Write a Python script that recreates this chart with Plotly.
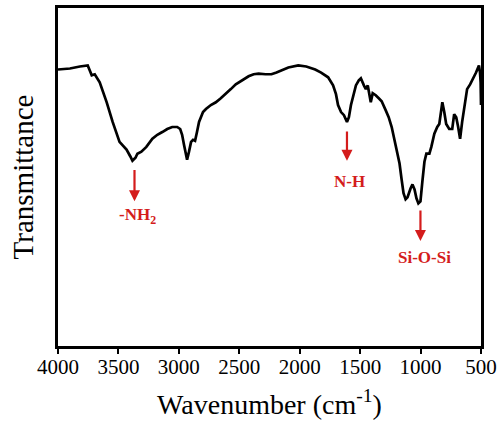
import plotly.graph_objects as go

# FTIR spectrum (wavenumber in cm-1, transmittance in arbitrary units)
wavenumber = [4000, 3901, 3819, 3754, 3737, 3721, 3696, 3655, 3597, 3548, 3491, 3433, 3400, 3384,
              3359, 3343, 3310, 3269, 3219, 3178, 3137, 3096, 3055, 3014, 2989, 2973, 2957, 2940,
              2932, 2916, 2899, 2883, 2866, 2850, 2833, 2800, 2776, 2735, 2694, 2653, 2612, 2570,
              2529, 2480, 2423, 2381, 2340, 2283, 2234, 2192, 2151, 2094, 2012, 1946, 1872, 1823,
              1765, 1724, 1700, 1683, 1658, 1634, 1609, 1593, 1576, 1552, 1535, 1511, 1494, 1469,
              1453, 1437, 1420, 1412, 1396, 1371, 1346, 1322, 1289, 1264, 1239, 1215, 1190, 1174,
              1157, 1141, 1124, 1108, 1083, 1067, 1050, 1034, 1018, 1001, 985, 968, 952, 927, 911,
              886, 862, 845, 829, 820, 804, 788, 763, 738, 722, 705, 689, 673, 656, 640, 615, 590,
              566, 541, 517, 508, 503, 500]
transmittance = [81.8, 82.1, 82.7, 83.0, 81.5, 80.1, 80.4, 78.0, 72.1, 66.3, 60.4, 58.1, 56.0, 54.8,
                 55.7, 56.9, 57.5, 58.9, 61.3, 62.5, 63.3, 64.2, 64.8, 64.8, 64.2, 62.5, 59.5, 56.6,
                 55.1, 57.5, 60.4, 61.0, 60.7, 63.3, 66.3, 69.2, 70.1, 71.3, 72.1, 73.3, 74.5, 76.0,
                 77.4, 78.6, 79.8, 80.4, 80.6, 80.4, 80.4, 80.9, 81.5, 82.4, 83.0, 82.7, 81.8, 80.9,
                 79.5, 77.1, 74.5, 71.3, 69.2, 68.3, 66.3, 67.7, 71.3, 75.1, 77.1, 78.6, 79.2, 77.1,
                 76.0, 77.1, 73.6, 72.1, 74.8, 74.2, 73.3, 72.4, 69.8, 67.7, 64.8, 61.0, 57.5, 54.0,
                 49.3, 45.2, 43.4, 44.0, 46.6, 47.8, 46.3, 43.7, 42.2, 42.8, 48.7, 54.5, 56.9, 56.9, 58.9,
                 62.8, 64.8, 65.7, 69.8, 72.1, 69.2, 65.7, 64.2, 64.2, 68.6, 67.7, 64.8, 61.3, 66.3, 69.8, 76.0, 77.4,
                 78.9, 80.9, 83.0, 80.9, 78.0, 71.3]

# Peak annotations
peak_labels = ["-NH<sub>2</sub>", "N-H", "Si-O-Si"]
peak_wn = [3367, 1609, 1001]
arrow_tail = [52.5, 63.9, 40.5]
arrow_tip = [42.8, 54.8, 31.1]
label_wn = [3345, 1585, 970]
label_y = [38.4, 48.7, 26.1]

x_ticks = [4000, 3500, 3000, 2500, 2000, 1500, 1000, 500]

serif = "Times New Roman, Liberation Serif, serif"
red = "#d41c1c"

fig = go.Figure()
fig.add_trace(go.Scatter(x=wavenumber, y=transmittance, mode="lines",
                         line=dict(color="black", width=2.7), showlegend=False))

for lab, wn, t0, t1, lwn, ly in zip(peak_labels, peak_wn, arrow_tail, arrow_tip, label_wn, label_y):
    fig.add_annotation(x=wn, y=t1, ax=wn, ay=t0, xref="x", yref="y", axref="x", ayref="y",
                       text="", showarrow=True, arrowhead=2, arrowsize=1.0, arrowwidth=2.2,
                       arrowcolor=red)
    fig.add_annotation(x=lwn, y=ly, xref="x", yref="y", text="<b>" + lab + "</b>",
                       showarrow=False, font=dict(family=serif, size=17, color=red))

fig.update_layout(
    width=502, height=425,
    margin=dict(l=58, r=18, t=5, b=79),
    plot_bgcolor="white", paper_bgcolor="white",
    font=dict(family=serif, color="black"),
    xaxis=dict(range=[4000, 500], tickvals=x_ticks, ticktext=[str(v) for v in x_ticks],
               ticks="outside", ticklen=5, tickwidth=2, tickcolor="black",
               ticklabelstandoff=-5,
               showline=True, linecolor="black", linewidth=2.5, mirror=True,
               showgrid=False, zeroline=False,
               tickfont=dict(family=serif, size=21, color="black"),
               title=dict(text="Wavenumber (cm<sup>-1</sup>)", font=dict(family=serif, size=28),
                          standoff=17)),
    yaxis=dict(range=[0, 100], showticklabels=False, ticks="",
               showline=True, linecolor="black", linewidth=2.5, mirror=True,
               showgrid=False, zeroline=False,
               title=dict(text="Transmittance", font=dict(family=serif, size=29), standoff=14)),
)

fig.write_html("out.html")
